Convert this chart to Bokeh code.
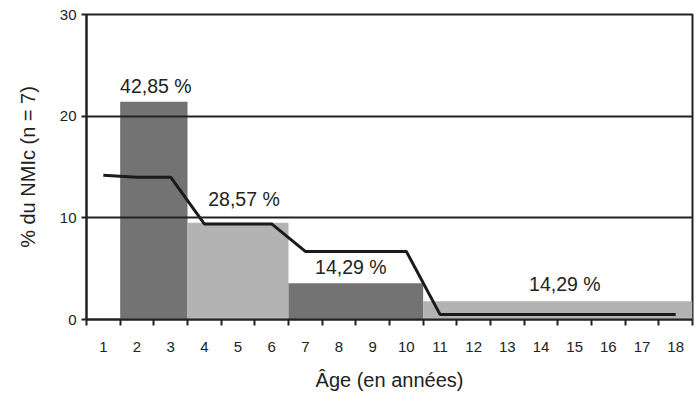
from bokeh.plotting import figure
from bokeh.models import Range1d, FixedTicker, ColumnDataSource
from bokeh.core.properties import value
from bokeh.embed import file_html
from bokeh.resources import INLINE

# ---- data ----
ages = list(range(1, 19))
age_labels = [str(a) for a in ages]

bar_first_age = [2, 4, 7, 11]
bar_last_age = [3, 6, 10, 18]
bar_heights = [21.43, 9.52, 3.57, 1.79]
bar_labels = ["42,85 %", "28,57 %", "14,29 %", "14,29 %"]
bar_colors = ["#737373", "#b3b3b3", "#737373", "#b3b3b3"]

line_values = [14.2, 14.0, 14.0, 9.4, 9.4, 9.4, 6.7, 6.7, 6.7, 6.7,
               0.5, 0.5, 0.5, 0.5, 0.5, 0.5, 0.5, 0.5]

y_ticks = [0, 10, 20, 30]

# label nudges (screen px)
label_dx = [2, 6, -5, 7]
label_dy = [-5, -13, -5, -6]

FONT = "Liberation Sans"
TXT = "#222222"

p = figure(width=694, height=398, output_backend="svg", toolbar_location=None,
           x_range=Range1d(0.5, 18.5), y_range=Range1d(0, 30),
           min_border_left=86, min_border_right=2, min_border_top=14,
           min_border_bottom=79)

p.outline_line_color = "#222222"
p.outline_line_width = 2

left = [a - 0.5 for a in bar_first_age]
right = [a + 0.5 for a in bar_last_age]
src = ColumnDataSource(dict(left=left, right=right, top=bar_heights,
                            bottom=[0] * len(bar_heights), color=bar_colors,
                            label=bar_labels,
                            xc=[(l + r) / 2 for l, r in zip(left, right)],
                            dx=label_dx, dy=label_dy))

p.quad(left="left", right="right", top="top", bottom="bottom", source=src,
       fill_color="color", line_color=None)

p.line(ages, line_values, line_color="#1a1a1a", line_width=3)

p.text(x="xc", y="top", text="label", source=src, x_offset="dx", y_offset="dy",
       text_align="center", text_baseline="bottom",
       text_font=value(FONT), text_font_size="19.5px", text_color=TXT)

# grid
p.xgrid.visible = False
p.ygrid.ticker = FixedTicker(ticks=y_ticks)
p.ygrid.grid_line_color = "#222222"
p.ygrid.grid_line_width = 2
p.ygrid.level = "overlay"

# y axis
p.yaxis.ticker = FixedTicker(ticks=y_ticks)
p.yaxis.axis_line_color = "#222222"
p.yaxis.axis_line_width = 2
p.yaxis.major_tick_line_color = "#222222"
p.yaxis.major_tick_line_width = 2
p.yaxis.major_tick_out = 5
p.yaxis.major_tick_in = 0
p.yaxis.minor_tick_line_color = None
p.yaxis.major_label_standoff = 5
p.yaxis.major_label_text_font = FONT
p.yaxis.major_label_text_font_size = "15px"
p.yaxis.major_label_text_color = TXT
p.yaxis.axis_label = "% du NMIc (n = 7)"
p.yaxis.axis_label_text_font = FONT
p.yaxis.axis_label_text_font_size = "20px"
p.yaxis.axis_label_text_font_style = "normal"
p.yaxis.axis_label_text_color = TXT
p.yaxis.axis_label_standoff = 18

# x axis
p.xaxis.ticker = FixedTicker(ticks=ages, minor_ticks=[a - 0.5 for a in ages] + [ages[-1] + 0.5])
p.xaxis.major_label_overrides = {a: s for a, s in zip(ages, age_labels)}
p.xaxis.axis_line_color = "#222222"
p.xaxis.axis_line_width = 2
p.xaxis.major_tick_line_color = None
p.xaxis.major_tick_out = 0
p.xaxis.major_tick_in = 0
p.xaxis.minor_tick_line_color = "#222222"
p.xaxis.minor_tick_line_width = 2
p.xaxis.minor_tick_out = 6
p.xaxis.minor_tick_in = 0
p.xaxis.major_label_standoff = 16
p.xaxis.major_label_text_font = FONT
p.xaxis.major_label_text_font_size = "15px"
p.xaxis.major_label_text_color = TXT
p.xaxis.axis_label = "Âge (en années)"
p.xaxis.axis_label_text_font = FONT
p.xaxis.axis_label_text_font_size = "20px"
p.xaxis.axis_label_text_font_style = "normal"
p.xaxis.axis_label_text_color = TXT
p.xaxis.axis_label_standoff = 14

open("out.html", "w").write(file_html(p, INLINE))
